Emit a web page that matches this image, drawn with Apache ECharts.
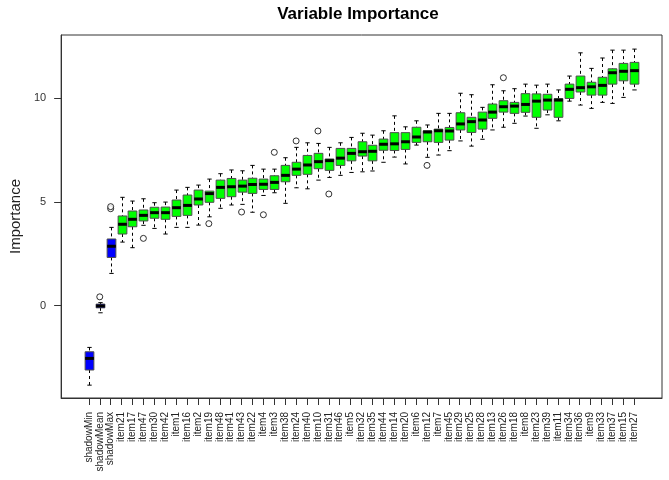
<!DOCTYPE html>
<html>
<head>
<meta charset="utf-8">
<title>Variable Importance</title>
<script src="https://cdn.jsdelivr.net/npm/echarts@6/dist/echarts.min.js"></script>
<style>
  html, body { margin: 0; padding: 0; background: #fff; }
  #chart { width: 669px; height: 480px; }
</style>
</head>
<body>
<div id="chart"></div>
<script>
// variables in plot order (shadow attributes first)
const categories = ['shadowMin', 'shadowMean', 'shadowMax', 'item21', 'item17', 'item47', 'item30', 'item42',
  'item1', 'item16', 'item2', 'item19', 'item48', 'item41', 'item43', 'item22', 'item4', 'item3', 'item38',
  'item24', 'item40', 'item10', 'item31', 'item46', 'item5', 'item32', 'item35', 'item44', 'item14', 'item20',
  'item6', 'item12', 'item7', 'item45', 'item29', 'item25', 'item28', 'item13', 'item26', 'item18', 'item8',
  'item23', 'item39', 'item11', 'item34', 'item36', 'item9', 'item33', 'item37', 'item15', 'item27'];

// box statistics
const lowWhisker = [-3.83, -0.34, 1.56, 3.07, 2.80, 3.88, 3.73, 3.46, 3.78, 3.78, 3.89, 4.29, 4.70, 4.86, 4.89,
  4.51, 5.32, 5.45, 4.94, 5.69, 5.64, 6.06, 6.19, 6.29, 6.43, 6.46, 6.50, 6.92, 7.17, 6.84, 7.75, 7.16, 7.27,
  7.48, 7.95, 7.70, 8.03, 8.48, 8.61, 8.80, 9.15, 8.56, 9.21, 8.92, 9.87, 9.68, 9.52, 9.81, 9.76, 10.05, 10.41];
const q1 = [-3.10, -0.10, 2.33, 3.46, 3.81, 4.09, 4.22, 4.17, 4.31, 4.36, 4.86, 4.99, 5.18, 5.26, 5.48,
  5.42, 5.61, 5.61, 5.98, 6.29, 6.34, 6.61, 6.53, 6.77, 6.99, 7.22, 6.99, 7.50, 7.49, 7.54, 7.88, 7.91, 7.88,
  7.99, 8.48, 8.36, 8.52, 9.04, 9.34, 9.28, 9.33, 9.09, 9.44, 9.09, 10.00, 10.31, 10.16, 10.16, 10.69, 10.85, 10.69];
const median = [-2.54, -0.01, 2.87, 3.93, 4.17, 4.36, 4.49, 4.49, 4.73, 4.84, 5.15, 5.41, 5.71, 5.74, 5.77,
  5.85, 5.86, 5.95, 6.29, 6.59, 6.79, 6.95, 7.00, 7.12, 7.35, 7.43, 7.45, 7.79, 7.81, 7.91, 8.14, 8.38, 8.44,
  8.43, 8.77, 8.88, 8.96, 9.34, 9.60, 9.63, 9.71, 9.87, 9.92, 9.92, 10.44, 10.52, 10.56, 10.63, 11.24, 11.31, 11.34];
const q3 = [-2.22, 0.08, 3.22, 4.33, 4.57, 4.62, 4.75, 4.76, 5.10, 5.34, 5.58, 5.53, 6.06, 6.14, 6.06,
  6.15, 6.11, 6.27, 6.77, 6.92, 7.25, 7.35, 7.08, 7.59, 7.59, 7.91, 7.74, 8.04, 8.35, 8.35, 8.61, 8.44, 8.52,
  8.60, 9.31, 9.09, 9.34, 9.73, 9.89, 9.81, 10.23, 10.22, 10.20, 9.99, 10.69, 11.08, 10.78, 11.02, 11.43, 11.69, 11.74];
const highWhisker = [-2.01, 0.15, 3.78, 5.23, 5.05, 5.16, 4.97, 5.00, 5.58, 5.71, 5.82, 6.11, 6.37, 6.55, 6.51,
  6.77, 6.59, 6.59, 7.14, 7.64, 7.86, 7.83, 7.64, 7.86, 8.12, 8.32, 8.23, 8.44, 9.16, 8.63, 8.92, 8.72, 9.28,
  9.28, 10.25, 10.18, 9.57, 10.66, 10.37, 10.47, 10.69, 10.64, 10.69, 10.41, 11.08, 12.20, 11.45, 11.95, 12.33, 12.33, 12.38];
// outliers: [variable position (1-based), importance]
const outliers = [[2, 0.43], [3, 4.68], [3, 4.78], [6, 3.25], [12, 3.96], [15, 4.52], [17, 4.39],
  [18, 7.40], [20, 7.95], [22, 8.43], [23, 5.39], [32, 6.77], [39, 11.0]];

const yTicks = [0, 5, 10];
const positions = categories.map((c, i) => i + 1);

const boxData = categories.map((c, i) => [i + 1, lowWhisker[i], q1[i], median[i], q3[i], highWhisker[i]]);

function renderBox(params, api) {
  const x = api.value(0);
  const lo = api.coord([x, api.value(1)]);
  const b1 = api.coord([x, api.value(2)]);
  const md = api.coord([x, api.value(3)]);
  const b3 = api.coord([x, api.value(4)]);
  const hi = api.coord([x, api.value(5)]);
  const w = api.size([0.8, 0])[0];
  const cx = Math.round(lo[0]) + 0.5;
  const fill = categories[x - 1].indexOf('shadow') === 0 ? '#0000ff' : '#00ff00';
  const dash = { stroke: '#000', lineWidth: 1, lineDash: [3, 3] };
  const solid = { stroke: '#000', lineWidth: 1 };
  return {
    type: 'group',
    children: [
      { type: 'line', shape: { x1: cx, y1: hi[1], x2: cx, y2: b3[1] }, style: dash },
      { type: 'line', shape: { x1: cx, y1: b1[1], x2: cx, y2: lo[1] }, style: dash },
      { type: 'line', shape: { x1: cx - w / 4, y1: hi[1], x2: cx + w / 4, y2: hi[1] }, style: solid },
      { type: 'line', shape: { x1: cx - w / 4, y1: lo[1], x2: cx + w / 4, y2: lo[1] }, style: solid },
      { type: 'rect', shape: { x: cx - w / 2, y: b3[1], width: w, height: b1[1] - b3[1] },
        style: { fill: fill, stroke: '#4d4d4d', lineWidth: 1 } },
      { type: 'line', shape: { x1: cx - w / 2, y1: md[1], x2: cx + w / 2, y2: md[1] },
        style: { stroke: '#000', lineWidth: 3 } }
    ]
  };
}

const chart = echarts.init(document.getElementById('chart'), null, { renderer: 'canvas' });
chart.setOption({
  animation: false,
  title: {
    text: 'Variable Importance',
    left: 358,
    textAlign: 'center',
    top: 6,
    padding: 0,
    textStyle: { fontFamily: 'Liberation Sans', fontWeight: 'bold', fontSize: 17, color: '#000' }
  },
  grid: {
    left: 54, right: 7, top: 35, bottom: 82,
    show: true, borderColor: '#333', borderWidth: 1, backgroundColor: 'transparent'
  },
  xAxis: {
    type: 'value',
    min: -1.54,
    max: 53.54,
    splitLine: { show: false },
    axisLine: { show: true, onZero: false, lineStyle: { color: '#333' } },
    axisTick: { show: true, length: 7, customValues: positions, lineStyle: { color: '#333' } },
    axisLabel: {
      customValues: positions,
      rotate: 90,
      margin: 14,
      fontFamily: 'Liberation Sans',
      fontSize: 10,
      color: '#222',
      formatter: v => categories[v - 1]
    }
  },
  yAxis: {
    type: 'value',
    min: -4.45,
    max: 13.06,
    name: 'Importance',
    nameLocation: 'middle',
    nameGap: 38,
    nameTextStyle: { fontFamily: 'Liberation Sans', fontSize: 15, color: '#222' },
    splitLine: { show: false },
    axisLine: { show: true, onZero: false, lineStyle: { color: '#333' } },
    axisTick: { show: true, length: 7, customValues: yTicks, lineStyle: { color: '#333' } },
    axisLabel: {
      customValues: yTicks,
      margin: 15,
      fontFamily: 'Liberation Sans',
      fontSize: 11,
      color: '#333'
    }
  },
  series: [
    {
      type: 'custom',
      renderItem: renderBox,
      encode: { x: 0, y: [1, 2, 3, 4, 5] },
      data: boxData
    },
    {
      type: 'scatter',
      symbol: 'circle',
      symbolSize: 6,
      itemStyle: { color: '#fff', borderColor: '#000', borderWidth: 1 },
      data: outliers
    }
  ]
});
</script>
</body>
</html>
